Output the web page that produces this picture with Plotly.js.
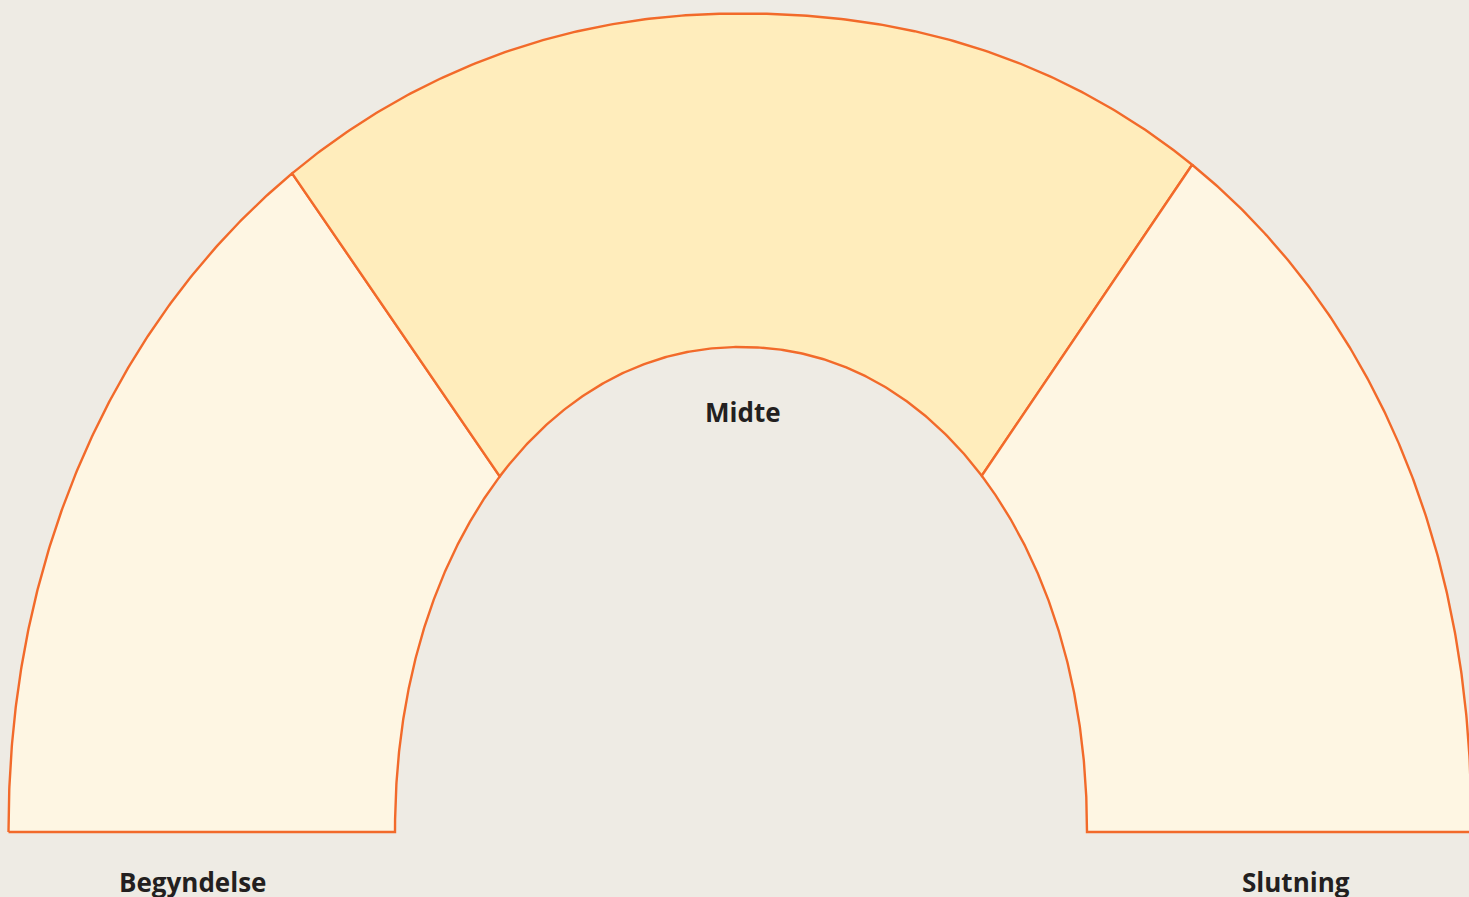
<!DOCTYPE html>
<html>
<head>
<meta charset="utf-8">
<script src="https://cdn.plot.ly/plotly-3.0.1.min.js"></script>
<style>
  html, body { margin: 0; padding: 0; background: #EEEBE4; }
  #chart { width: 1469px; height: 897px; }
</style>
</head>
<body>
<div id="chart"></div>
<script>
// ---- Data: the three phases of the arc (angles in degrees along the arch) ----
const categories = ["Begyndelse", "Midte", "Slutning"];
const outerStart = [180, 127.0, 53.4];
const outerEnd   = [127.0, 53.4, 0];
const innerStart = [180, 133.5, 46.6];
const innerEnd   = [133.5, 46.6, 0];

// ---- Styles ----
const fillColors = ["#FEF6E3", "#FFEDBC", "#FEF6E3"];
const strokeColor = "#F26A2A";
const textColor = "#231F20";

// ---- Arch geometry (shape parameters, in axis units) ----
const OUTER = { cx: 0, aL: 731.5, aR: 731.5, b: 818.5, nL: 2.07, nR: 2.15 };
const INNER = { cx: 1, aL: 346, aR: 346, b: 485, nL: 2.07, nR: 2.07 };

function archPoint(g, deg) {
  const t = deg * Math.PI / 180;
  const c = Math.cos(t), s = Math.sin(t);
  const left = c < 0;
  const n = left ? g.nL : g.nR;
  const a = left ? g.aL : g.aR;
  const x = g.cx + a * Math.sign(c) * Math.pow(Math.abs(c), 2 / n);
  const y = g.b * Math.pow(Math.abs(s), 2 / n);
  return [x, y];
}

function arc(g, from, to, steps) {
  const xs = [], ys = [];
  for (let i = 0; i <= steps; i++) {
    const d = from + (to - from) * i / steps;
    const p = archPoint(g, d);
    xs.push(p[0]); ys.push(p[1]);
  }
  return [xs, ys];
}

const traces = categories.map((name, i) => {
  const o = arc(OUTER, outerStart[i], outerEnd[i], 240);
  const inn = arc(INNER, innerEnd[i], innerStart[i], 240);
  const xs = o[0].concat(inn[0]);
  const ys = o[1].concat(inn[1]);
  xs.push(xs[0]); ys.push(ys[0]);
  return {
    type: "scatter",
    mode: "lines",
    name: name,
    x: xs, y: ys,
    fill: "toself",
    fillcolor: fillColors[i],
    line: { color: strokeColor, width: 2.4 },
    hoverinfo: "name",
    showlegend: false
  };
});

const labelFont = { family: "Open Sans, Noto Sans, sans-serif", size: 26, color: textColor, weight: 700 };
const annotations = [
  { text: "<b>" + categories[0] + "</b>", x: -548, y: -50 },
  { text: "<b>" + categories[1] + "</b>", x: 3, y: 420 },
  { text: "<b>" + categories[2] + "</b>", x: 556, y: -50 }
].map(a => Object.assign(a, {
  xref: "x", yref: "y", showarrow: false,
  xanchor: "center", yanchor: "middle", font: labelFont
}));

const layout = {
  width: 1469, height: 897,
  margin: { l: 0, r: 0, t: 0, b: 0, pad: 0 },
  paper_bgcolor: "#EEEBE4",
  plot_bgcolor: "#EEEBE4",
  xaxis: { range: [-740, 729], visible: false, showgrid: false, zeroline: false, fixedrange: true },
  yaxis: { range: [-65, 832], visible: false, showgrid: false, zeroline: false, fixedrange: true },
  annotations: annotations,
  showlegend: false
};

Plotly.newPlot("chart", traces, layout, { displayModeBar: false, staticPlot: true });
</script>
</body>
</html>
